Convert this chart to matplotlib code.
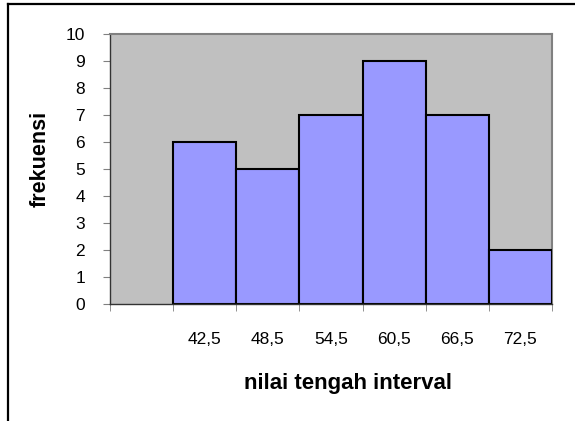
import numpy as np
import matplotlib.pyplot as plt
from matplotlib.lines import Line2D

plt.rcParams['font.family'] = ['Liberation Sans', 'DejaVu Sans']

# data
nilai_tengah = ['', '42,5', '48,5', '54,5', '60,5', '66,5', '72,5']
frekuensi = [np.nan, 6, 5, 7, 9, 7, 2]

x = np.arange(len(nilai_tengah))
y = np.array(frekuensi, dtype=float)
ada = ~np.isnan(y)

fig = plt.figure(figsize=(5.75, 4.21), dpi=100)
ax = fig.add_axes([110/575, 1 - 304/421, 442/575, 270/421])
ax.set_facecolor('#C0C0C0')

ax.bar(x[ada], y[ada], width=1.0, color='#9999FF', edgecolor='black', linewidth=1.5, zorder=3)

ax.set_xlim(-0.5, len(nilai_tengah) - 0.5)
ax.set_ylim(0, 10)
ax.set_yticks(np.arange(0, 11, 1))

# labels at category centres, tick marks at boundaries (excel style)
ax.set_xticks(x)
ax.set_xticklabels(nilai_tengah)
ax.set_xticks(np.arange(-0.5, len(nilai_tengah)), minor=True)
ax.tick_params(axis='x', which='major', length=0, pad=20, labelsize=12.5)
ax.tick_params(axis='x', which='minor', length=5, color='#808080', direction='out')
ax.tick_params(axis='y', length=5, color='#808080', direction='out', pad=13, labelsize=12.5)

for s in ['top', 'right']:
    ax.spines[s].set_color('#808080')
    ax.spines[s].set_linewidth(1.5)
for s in ['left', 'bottom']:
    ax.spines[s].set_color('#333333')
    ax.spines[s].set_linewidth(1.0)
ax.spines['bottom'].set_zorder(4)

fig.text(40/575, 1 - 159/421, 'frekuensi', rotation=90, ha='center', va='center',
         fontsize=15.5, fontweight='bold')
fig.text(348/575, 1 - 383/421, 'nilai tengah interval', ha='center', va='center',
         fontsize=16, fontweight='bold')

# outer chart frame (cut off at right and bottom)
fig.add_artist(Line2D([7.5/575, 1], [1 - 3.5/421, 1 - 3.5/421], color='black', lw=1.6,
                      transform=fig.transFigure))
fig.add_artist(Line2D([7.5/575, 7.5/575], [0, 1 - 3.5/421], color='black', lw=1.6,
                      transform=fig.transFigure))

fig.savefig('out.png', dpi=100)
